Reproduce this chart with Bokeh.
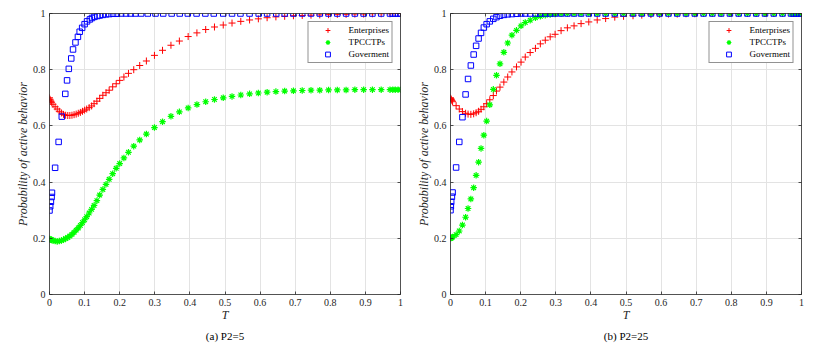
from bokeh.plotting import figure
from bokeh.models import Range1d, FixedTicker, LinearAxis, Legend, LegendItem, Title
from bokeh.layouts import row
from bokeh.embed import file_html
from bokeh.resources import INLINE

# ---------------- data ----------------
x_ticks = [0, 0.1, 0.2, 0.3, 0.4, 0.5, 0.6, 0.7, 0.8, 0.9, 1]
x_tick_labels = ["0", "0.1", "0.2", "0.3", "0.4", "0.5", "0.6", "0.7", "0.8", "0.9", "1"]
y_ticks = [0, 0.2, 0.4, 0.6, 0.8, 1]
y_tick_labels = ["0", "0.2", "0.4", "0.6", "0.8", "1"]

series_names = ["Enterprises", "TPCCTPs", "Goverment"]
captions = ["(a) P2=5", "(b) P2=25"]

# Panel (a) P2=5
t_a = [0, 0.001, 0.002, 0.004, 0.006, 0.01, 0.016, 0.022, 0.028, 0.034,
       0.04, 0.046, 0.052, 0.058, 0.064, 0.07, 0.076, 0.082, 0.088, 0.094,
       0.1, 0.106, 0.113, 0.12, 0.127, 0.135, 0.143, 0.152, 0.161, 0.17,
       0.18, 0.19, 0.2, 0.212, 0.225, 0.24, 0.257, 0.276, 0.299, 0.322,
       0.346, 0.37, 0.395, 0.42, 0.445, 0.47, 0.495, 0.52, 0.545, 0.57,
       0.595, 0.62, 0.645, 0.67, 0.695, 0.72, 0.745, 0.77, 0.795, 0.82,
       0.845, 0.87, 0.895, 0.92, 0.945, 0.97, 0.978, 0.985, 0.993, 1.0]
enterprises_a = [0.700, 0.695, 0.692, 0.688, 0.684, 0.677, 0.668, 0.660, 0.652, 0.646,
                 0.641, 0.638, 0.637, 0.637, 0.638, 0.640, 0.642, 0.645, 0.648, 0.652,
                 0.656, 0.660, 0.665, 0.671, 0.679, 0.688, 0.698, 0.709, 0.718, 0.727,
                 0.739, 0.750, 0.762, 0.774, 0.787, 0.800, 0.815, 0.831, 0.851, 0.869,
                 0.887, 0.902, 0.918, 0.931, 0.943, 0.952, 0.959, 0.966, 0.972, 0.977,
                 0.981, 0.985, 0.988, 0.990, 0.992, 0.993, 0.994, 0.995, 0.996, 0.997,
                 0.997, 0.998, 0.998, 0.999, 0.999, 0.999, 1.0, 1.0, 1.0, 1.0]
tpcctps_a = [0.198, 0.197, 0.196, 0.195, 0.194, 0.192, 0.190, 0.189, 0.190, 0.192,
             0.195, 0.199, 0.203, 0.208, 0.214, 0.221, 0.229, 0.237, 0.246, 0.256,
             0.266, 0.277, 0.290, 0.303, 0.317, 0.334, 0.354, 0.374, 0.392, 0.410,
             0.430, 0.449, 0.466, 0.486, 0.506, 0.528, 0.550, 0.571, 0.594, 0.615,
             0.634, 0.650, 0.664, 0.676, 0.686, 0.694, 0.700, 0.705, 0.710, 0.714,
             0.717, 0.720, 0.722, 0.724, 0.725, 0.726, 0.727, 0.727, 0.728, 0.728,
             0.728, 0.729, 0.729, 0.729, 0.729, 0.729, 0.729, 0.729, 0.729, 0.729]
t_gov_a = [0, 0.002, 0.004, 0.006, 0.007, 0.016, 0.026, 0.035, 0.045, 0.05,
           0.055, 0.062, 0.067, 0.074, 0.081, 0.086, 0.093, 0.1, 0.107, 0.115,
           0.121, 0.128, 0.136, 0.143, 0.152, 0.161, 0.17, 0.181, 0.192, 0.204,
           0.218, 0.231, 0.245, 0.261, 0.28, 0.302, 0.324, 0.348, 0.371, 0.394,
           0.419, 0.444, 0.468, 0.495, 0.52, 0.544, 0.57, 0.596, 0.62, 0.646,
           0.67, 0.695, 0.72, 0.745, 0.77, 0.795, 0.82, 0.845, 0.87, 0.895,
           0.92, 0.945, 0.97, 0.978, 0.985, 0.993, 1.0]
government_a = [0.299, 0.314, 0.330, 0.347, 0.362, 0.451, 0.543, 0.633, 0.714, 0.762,
                0.803, 0.840, 0.872, 0.897, 0.917, 0.935, 0.949, 0.962, 0.972, 0.979,
                0.984, 0.988, 0.991, 0.993, 0.995, 0.997, 0.998, 0.999, 0.999, 1.0,
                1.0, 1.0, 1.0, 1.0, 1.0, 1.0, 1.0, 1.0, 1.0, 1.0,
                1.0, 1.0, 1.0, 1.0, 1.0, 1.0, 1.0, 1.0, 1.0, 1.0,
                1.0, 1.0, 1.0, 1.0, 1.0, 1.0, 1.0, 1.0, 1.0, 1.0,
                1.0, 1.0, 1.0, 1.0, 1.0, 1.0, 1.0]

# Panel (b) P2=25
t_b = [0, 0.001, 0.002, 0.004, 0.006, 0.016, 0.025, 0.034, 0.043, 0.05,
       0.058, 0.066, 0.073, 0.08, 0.087, 0.095, 0.103, 0.112, 0.122, 0.131,
       0.141, 0.152, 0.163, 0.175, 0.188, 0.201, 0.213, 0.227, 0.242, 0.256,
       0.27, 0.284, 0.298, 0.315, 0.333, 0.352, 0.372, 0.394, 0.418, 0.442,
       0.468, 0.493, 0.52, 0.545, 0.571, 0.596, 0.621, 0.646, 0.671, 0.696,
       0.721, 0.746, 0.771, 0.796, 0.821, 0.846, 0.871, 0.896, 0.921, 0.946,
       0.97, 0.978, 0.985, 0.993, 1.0]
enterprises_b = [0.700, 0.697, 0.694, 0.690, 0.686, 0.672, 0.660, 0.651, 0.645, 0.642,
                 0.641, 0.643, 0.647, 0.652, 0.659, 0.668, 0.679, 0.693, 0.708, 0.724,
                 0.738, 0.756, 0.774, 0.792, 0.810, 0.827, 0.845, 0.861, 0.876, 0.892,
                 0.905, 0.917, 0.926, 0.939, 0.949, 0.956, 0.964, 0.970, 0.977, 0.982,
                 0.987, 0.990, 0.992, 0.994, 0.996, 0.997, 0.998, 0.998, 0.999, 0.999,
                 1.0, 1.0, 1.0, 1.0, 1.0, 1.0, 1.0, 1.0, 1.0, 1.0,
                 1.0, 1.0, 1.0, 1.0, 1.0]
tpcctps_b = [0.200, 0.201, 0.202, 0.203, 0.205, 0.213, 0.226, 0.247, 0.275, 0.306,
             0.340, 0.380, 0.424, 0.471, 0.520, 0.567, 0.617, 0.675, 0.730, 0.780,
             0.821, 0.862, 0.895, 0.923, 0.940, 0.956, 0.968, 0.976, 0.985, 0.990,
             0.994, 0.996, 0.998, 0.999, 1.0, 1.0, 1.0, 1.0, 1.0, 1.0,
             1.0, 1.0, 1.0, 1.0, 1.0, 1.0, 1.0, 1.0, 1.0, 1.0,
             1.0, 1.0, 1.0, 1.0, 1.0, 1.0, 1.0, 1.0, 1.0, 1.0,
             1.0, 1.0, 1.0, 1.0, 1.0]
government_b = [0.300, 0.314, 0.330, 0.348, 0.363, 0.452, 0.543, 0.631, 0.712, 0.767,
                0.815, 0.854, 0.885, 0.911, 0.931, 0.950, 0.962, 0.972, 0.981, 0.987,
                0.992, 0.995, 0.997, 0.998, 0.999, 1.0, 1.0, 1.0, 1.0, 1.0,
                1.0, 1.0, 1.0, 1.0, 1.0, 1.0, 1.0, 1.0, 1.0, 1.0,
                1.0, 1.0, 1.0, 1.0, 1.0, 1.0, 1.0, 1.0, 1.0, 1.0,
                1.0, 1.0, 1.0, 1.0, 1.0, 1.0, 1.0, 1.0, 1.0, 1.0,
                1.0, 1.0, 1.0, 1.0, 1.0]

# ---------------- styling ----------------
FONT = "Liberation Serif"
AX = "#262626"
GRID = "#e3e3e3"
RED = "#ff0000"
GREEN = "#00ff00"
BLUE = "#0000ff"


def style_axis(ax, ticks, labels, show_labels):
    ax.ticker = FixedTicker(ticks=ticks)
    ax.axis_line_color = AX
    ax.axis_line_width = 0.8
    ax.major_tick_line_color = AX
    ax.major_tick_line_width = 0.8
    ax.major_tick_in = 3
    ax.major_tick_out = 0
    ax.minor_tick_line_color = None
    if show_labels:
        ax.major_label_overrides = dict(zip(ticks, labels))
        ax.major_label_text_font = FONT
        ax.major_label_text_font_size = "10px"
        ax.major_label_text_color = AX
        ax.major_label_standoff = 4
    else:
        # box-style ticks only: no tick texts are drawn on these sides
        ax.major_label_text_color = None
        ax.major_label_text_font_size = "1px"
        ax.major_label_standoff = 0


def make_panel(t_et, ent, tpc, t_gov, gov, caption, left_border, right_border):
    p = figure(frame_width=351, frame_height=281,
               x_range=Range1d(0, 1), y_range=Range1d(0, 1),
               output_backend="svg", toolbar_location=None,
               min_border_left=left_border, min_border_right=right_border,
               min_border_top=13, min_border_bottom=53)
    p.outline_line_color = None
    p.background_fill_color = "white"

    style_axis(p.xaxis[0], x_ticks, x_tick_labels, True)
    style_axis(p.yaxis[0], y_ticks, y_tick_labels, True)
    p.xaxis[0].axis_label = "T"
    p.yaxis[0].axis_label = "Probability of active behavior"
    for ax in (p.xaxis[0], p.yaxis[0]):
        ax.axis_label_text_font = FONT
        ax.axis_label_text_font_style = "italic"
        ax.axis_label_text_font_size = "12px"
        ax.axis_label_text_color = AX
    p.xaxis[0].axis_label_standoff = -1
    p.yaxis[0].axis_label_standoff = 0

    top = LinearAxis()
    style_axis(top, x_ticks, x_tick_labels, False)
    p.add_layout(top, "above")
    right = LinearAxis()
    style_axis(right, y_ticks, y_tick_labels, False)
    p.add_layout(right, "right")

    p.xgrid.ticker = FixedTicker(ticks=x_ticks)
    p.ygrid.ticker = FixedTicker(ticks=y_ticks)
    p.xgrid.grid_line_color = GRID
    p.ygrid.grid_line_color = GRID

    r1 = p.scatter(t_et, ent, marker="cross", size=7, line_color=RED, line_width=1)
    r2 = p.scatter(t_et, tpc, marker="asterisk", size=6.5, line_color=GREEN, line_width=1.2)
    r3 = p.scatter(t_gov, gov, marker="square", size=5.5, line_color=BLUE,
                   fill_color=None, line_width=1)

    legend = Legend(items=[LegendItem(label=series_names[0], renderers=[r1]),
                           LegendItem(label=series_names[1], renderers=[r2]),
                           LegendItem(label=series_names[2], renderers=[r3])],
                    location="top_right")
    legend.margin = 8
    legend.padding = 2
    legend.spacing = 0
    legend.glyph_width = 34
    legend.glyph_height = 12
    legend.label_height = 12
    legend.label_standoff = 4
    legend.label_text_font = FONT
    legend.label_text_font_size = "9px"
    legend.label_text_color = "black"
    legend.border_line_color = AX
    legend.border_line_width = 0.8
    legend.background_fill_color = "white"
    legend.background_fill_alpha = 1
    p.add_layout(legend)

    title = Title(text=caption, align="center", text_font=FONT,
                  text_font_size="11px", text_font_style="normal",
                  text_color="black", standoff=6)
    p.add_layout(title, "below")
    return p


p1 = make_panel(t_a, enterprises_a, tpcctps_a, t_gov_a, government_a, captions[0], 49, 8)
p2 = make_panel(t_b, enterprises_b, tpcctps_b, t_b, government_b, captions[1], 42, 37)

layout = row(p1, p2)
open("out.html", "w").write(file_html(layout, INLINE))
